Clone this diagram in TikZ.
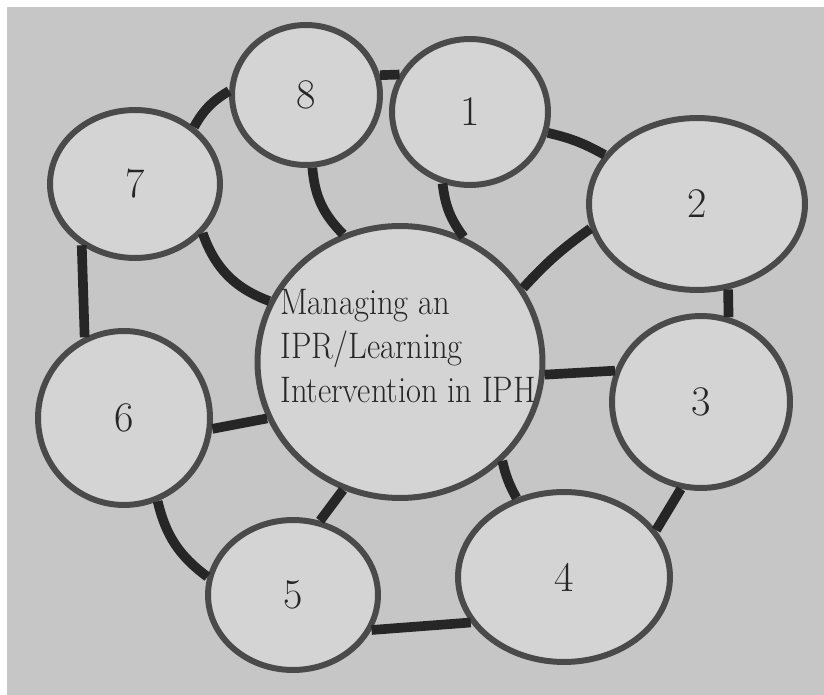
\documentclass[tikz,border=0pt]{standalone}
\usepackage{fontspec}
\usepackage{graphicx}
\usetikzlibrary{shapes.geometric}
\definecolor{paper}{HTML}{C6C6C6}
\definecolor{blob}{HTML}{D4D4D4}
\definecolor{rim}{HTML}{4A4A4A}
\definecolor{ink}{HTML}{262626}
\tikzset{
    bubble/.style={ellipse, draw=rim, line width=3.4pt, fill=blob,
        inner sep=0pt, font=\fontsize{24}{24}\selectfont, text=ink},
    link/.style={draw=ink, line width=5.5pt}
}
\begin{document}
\begin{tikzpicture}[x=0.02cm, y=-0.02cm]
    \useasboundingbox (0,0) rectangle (824,695);
    \fill[white] (0,0) rectangle (824,695);
    \fill[paper] (7,7) rectangle (824,695);

    % centre and the eight steps
    \node[bubble, minimum width=5.7cm, minimum height=5.44cm] (c) at (400,362) {};
    \node[anchor=west, text=ink, inner sep=0pt, font=\fontsize{21}{25}\selectfont]
        (title) at (280,350) {\scalebox{0.88}[1]{\begin{tabular}{@{}l@{}}
            Managing an\\IPR/Learning\\Intervention in IPH\end{tabular}}};
    \node[bubble, minimum width=3.12cm, minimum height=2.92cm] (n1) at (470,112) {1};
    \node[bubble, minimum width=4.32cm, minimum height=3.44cm] (n2) at (697,204) {2};
    \node[bubble, minimum width=3.56cm, minimum height=3.44cm] (n3) at (701,402) {3};
    \node[bubble, minimum width=4.24cm, minimum height=3.4cm] (n4) at (564,577) {4};
    \node[bubble, minimum width=3.4cm, minimum height=3.0cm] (n5) at (293,595) {5};
    \node[bubble, minimum width=3.44cm, minimum height=3.48cm] (n6) at (124,418) {6};
    \node[bubble, minimum width=3.4cm, minimum height=2.96cm] (n7) at (135,184) {7};
    \node[bubble, minimum width=2.96cm, minimum height=2.8cm] (n8) at (306,95) {8};

    % ring
    \draw[link] (n8.15) -- (n1.152);
    \draw[link] (n1.-15) to[bend left=8] (n2.152);
    \draw[link] (n2.-70) -- (n3.72);
    \draw[link] (n3.-103) -- (n4.27);
    \draw[link] (n4.-154) -- (n5.-24);
    \draw[link] (n6.-68) to[bend right=20] (n5.168);
    \draw[link] (n7.-131) -- (n6.116);
    \draw[link] (n7.44) to[bend left=15] (n8.177);

    % spokes
    \draw[link] (c.114) to[bend left=20] (n8.-85);
    \draw[link] (c.63) to[bend left=15] (n1.-111);
    \draw[link] (c.31) to[bend left=6] (n2.-167);
    \draw[link] (c.-5) -- (n3.160);
    \draw[link] (c.-44) to[bend right=8] (n4.121);
    \draw[link] (c.-114) -- (n5.70);
    \draw[link] (c.-157) -- (n6.-7);
    \draw[link] (c.155) to[bend left=25] (n7.-36);
\end{tikzpicture}
\end{document}
